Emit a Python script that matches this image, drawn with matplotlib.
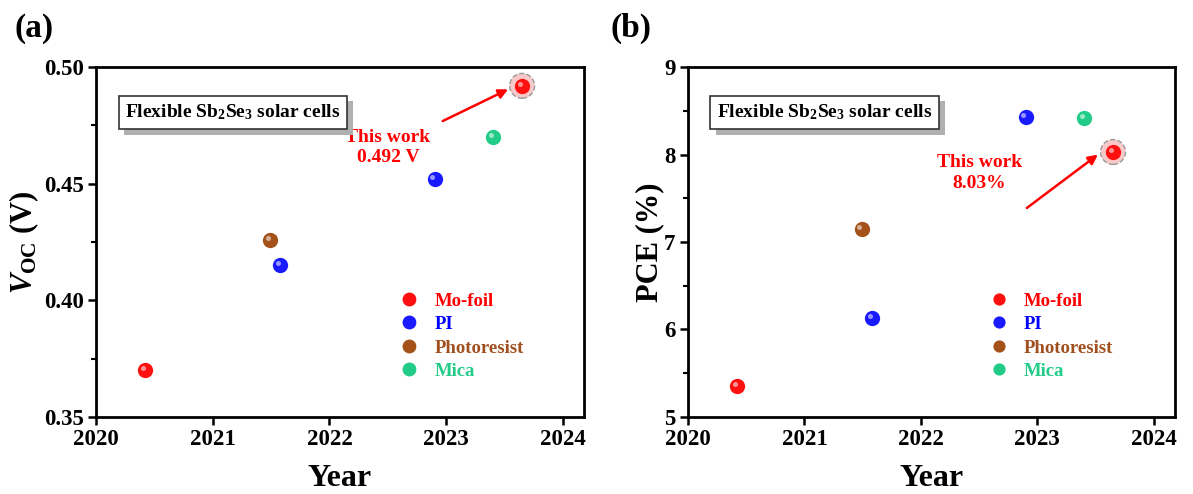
import numpy as np
import matplotlib
matplotlib.use('Agg')
import matplotlib.pyplot as plt
from matplotlib.lines import Line2D
from matplotlib.legend_handler import HandlerTuple
from matplotlib.transforms import offset_copy
import matplotlib.patheffects as pe

plt.rcParams['font.family'] = 'Liberation Serif'
plt.rcParams['font.weight'] = 'bold'
plt.rcParams['axes.labelweight'] = 'bold'
plt.rcParams['mathtext.fontset'] = 'custom'
plt.rcParams['mathtext.rm'] = 'Liberation Serif:bold'
plt.rcParams['mathtext.it'] = 'Liberation Serif:italic:bold'
plt.rcParams['mathtext.bf'] = 'Liberation Serif:bold'

# datos por sustrato: (año, Voc, PCE)
mo_year = [2020.42, 2023.65]
mo_voc = [0.370, 0.492]
mo_pce = [5.35, 8.03]

pi_year = [2021.58, 2022.90]
pi_voc = [0.415, 0.452]
pi_pce = [6.13, 8.43]

ph_year = [2021.49]
ph_voc = [0.426]
ph_pce = [7.15]

mica_year = [2023.40]
mica_voc = [0.470]
mica_pce = [8.42]

labels = ['Mo-foil', 'PI', 'Photoresist', 'Mica']
colors = ['#ff1010', '#1a1aff', '#a4511a', '#22cc88']
text_colors = ['#ff0000', '#0000ff', '#a0501e', '#22cc88']

fig = plt.figure(figsize=(11.93, 4.94), dpi=100)
ax1 = fig.add_axes([0.0805, 0.156, 0.409, 0.708])
ax2 = fig.add_axes([0.5767, 0.156, 0.408, 0.708])


def esfera(ax, x, y, c):
    ax.plot(x, y, 'o', ms=11, color=c, mec=c, mew=0, zorder=4)
    tr = offset_copy(ax.transData, fig=fig, x=-2.2, y=2.2, units='dots')
    ax.plot(x, y, 'o', ms=3.6, color='white', alpha=0.55, mew=0, transform=tr, zorder=5)


def panel(ax, ys, ylim, yticks, ylabel, this_val, txt, txt_xy, arr_from, arr_to, leg_x, ms_leg, lpad):
    years = [mo_year, pi_year, ph_year, mica_year]
    # halo de "This work"
    ax.scatter([mo_year[1]], [this_val], s=320, facecolor='#f9c9c9', edgecolor='#999999',
               linestyle='--', linewidth=1.0, zorder=3)
    for xs, vs, c in zip(years, ys, colors):
        esfera(ax, xs, vs, c)
    ax.set_xlim(2020, 2024.18)
    ax.set_ylim(*ylim)
    ax.set_xticks([2020, 2021, 2022, 2023, 2024])
    ax.set_yticks(yticks)
    ax.set_yticks([(a + b) / 2 for a, b in zip(yticks[:-1], yticks[1:])], minor=True)
    ax.tick_params(axis='both', which='major', direction='out', length=6, width=1.8,
                   labelsize=16.5, pad=3)
    ax.tick_params(axis='y', which='minor', direction='out', length=3.5, width=1.5)
    for s in ax.spines.values():
        s.set_linewidth(2)
    ax.set_xlabel('Year', fontsize=23, labelpad=10)
    ax.set_ylabel(ylabel, fontsize=22, labelpad=lpad)

    t = ax.text(0.06, 0.871, 'Flexible Sb$_2$Se$_3$ solar cells', transform=ax.transAxes,
                fontsize=14, va='center', ha='left', zorder=6,
                bbox=dict(boxstyle='square,pad=0.35', fc='white', ec='#333333', lw=1.2))
    t.get_bbox_patch().set_path_effects([pe.SimplePatchShadow(offset=(4, -4), shadow_rgbFace='#b0b0b0', alpha=1.0),
                                         pe.Normal()])

    ax.annotate('', xy=arr_to, xytext=arr_from,
                arrowprops=dict(arrowstyle='-|>', color='red', lw=1.8, mutation_scale=14,
                                shrinkA=0, shrinkB=0))
    ax.text(txt_xy[0], txt_xy[1], txt, color='red', fontsize=14, ha='center', va='center',
            linespacing=1.25)

    handles = []
    for c in colors:
        base = Line2D([], [], ls='', marker='o', ms=ms_leg, color=c, mew=0)
        hl = Line2D([], [], ls='', marker='o', ms=ms_leg * 0.33, color='white', alpha=0.5, mew=0)
        handles.append((base, hl))
    leg = ax.legend(handles, labels, handler_map={tuple: HandlerTuple(ndivide=None)},
                    loc='upper left', bbox_to_anchor=leg_x, frameon=False,
                    fontsize=13.5, handlelength=1.0, handletextpad=0.6, labelspacing=0.34,
                    borderpad=0, borderaxespad=0)
    for tx, c in zip(leg.get_texts(), text_colors):
        tx.set_color(c)


panel(ax1, [mo_voc, pi_voc, ph_voc, mica_voc], (0.35, 0.50), [0.35, 0.40, 0.45, 0.50],
      '$V_\\mathrm{OC}$ (V)', mo_voc[1], 'This work\n0.492 V', (2022.5, 0.4655),
      (2022.97, 0.4769), (2023.53, 0.4905), (0.632, 0.356), 10, 2)
ax1.set_yticklabels(['0.35', '0.40', '0.45', '0.50'])

panel(ax2, [mo_pce, pi_pce, ph_pce, mica_pce], (5, 9), [5, 6, 7, 8, 9],
      'PCE (%)', mo_pce[1], 'This work\n8.03%', (2022.5, 7.79), (2022.91, 7.39),
      (2023.52, 8.0), (0.629, 0.356), 8.8, 0)

fig.text(0.012, 0.925, '(a)', fontsize=24, fontweight='bold')
fig.text(0.512, 0.925, '(b)', fontsize=24, fontweight='bold')

fig.savefig('out.png', dpi=100)
